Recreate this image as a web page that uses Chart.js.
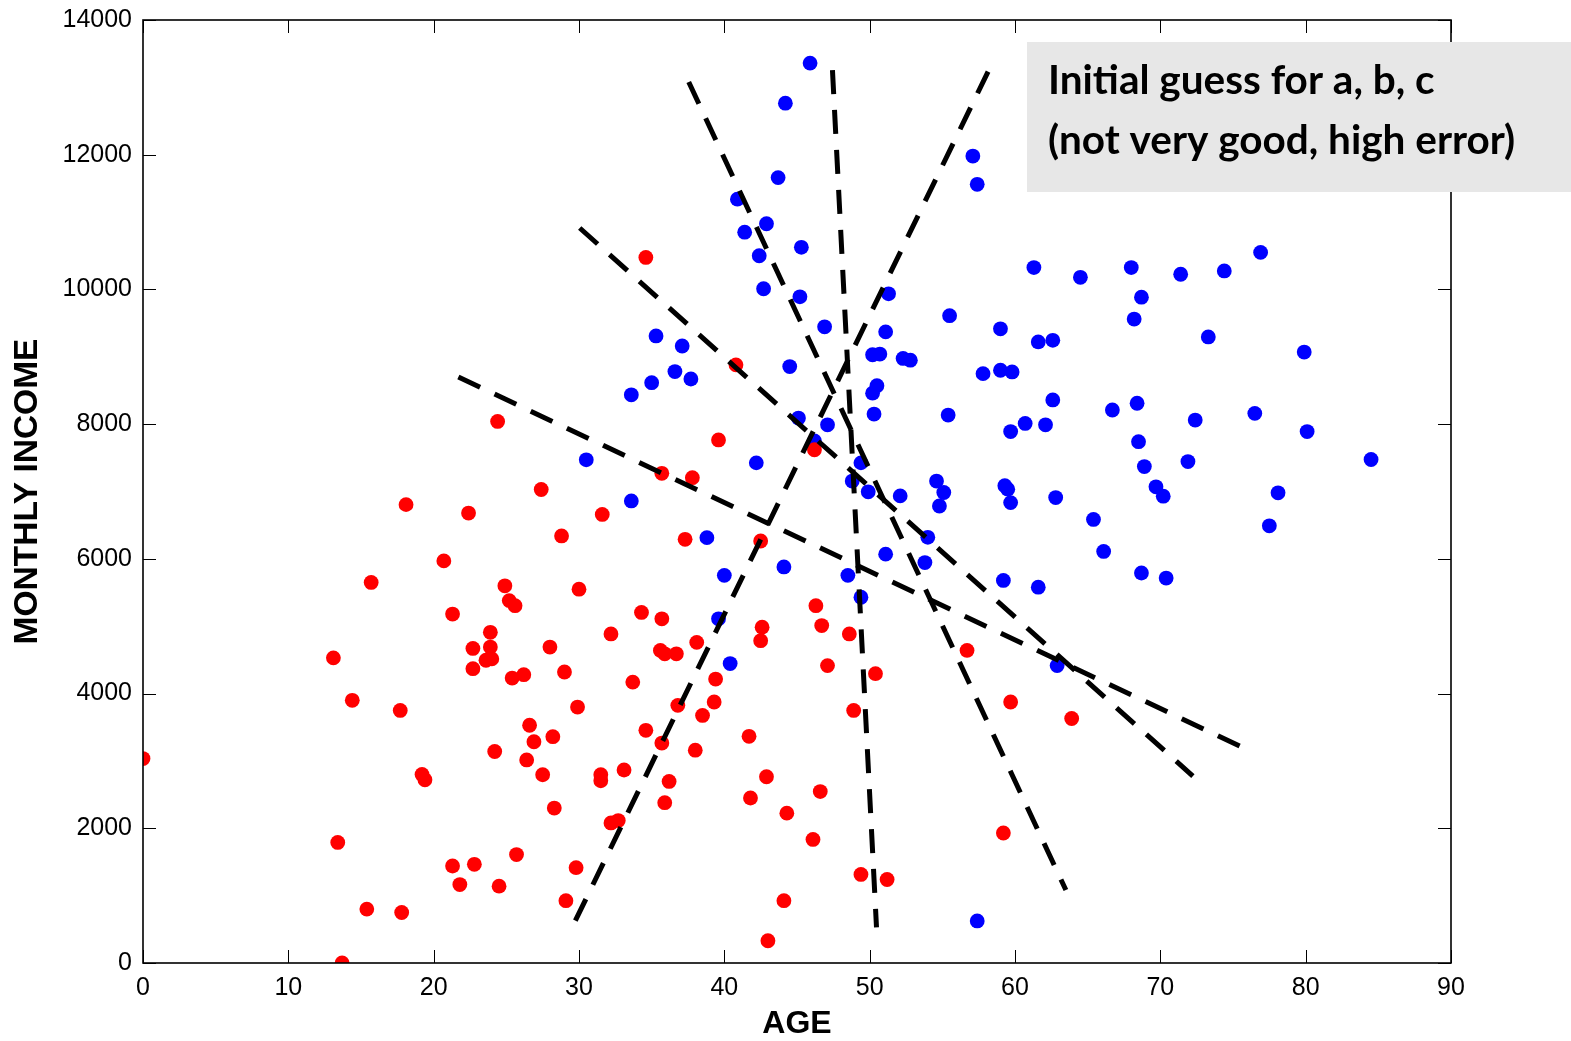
<!DOCTYPE html>
<html>
<head>
<meta charset="utf-8">
<title>Initial guess for a, b, c</title>
<script src="https://cdn.jsdelivr.net/npm/chart.js@4.4.0/dist/chart.umd.min.js"></script>
<style>
  html, body { margin: 0; padding: 0; background: #fff; }
  #wrap { width: 1571px; height: 1041px; }
</style>
</head>
<body>
<div id="wrap"><canvas id="guessChart"></canvas></div>
<script>
// red class (age, monthly income)
const redAge = [0.0, 13.1, 13.4, 13.7, 14.4, 15.4, 15.7, 17.7, 17.8, 18.1,
  19.2, 19.4, 20.7, 21.3, 21.3, 21.8, 22.4, 22.7, 22.7, 22.8,
  23.9, 23.9, 23.6, 24.0, 24.4, 24.2, 24.5, 24.9, 25.2, 25.6,
  25.4, 26.2, 25.7, 26.6, 26.9, 26.4, 27.4, 27.5, 28.0, 28.2,
  28.3, 28.8, 29.0, 29.1, 29.8, 29.9, 30.0, 31.5, 31.5, 31.6,
  32.2, 32.2, 32.7, 33.1, 33.7, 34.3, 34.6, 34.6, 35.6, 35.7,
  35.7, 35.7, 35.9, 35.9, 36.2, 36.7, 36.8, 37.3, 37.8, 38.0,
  38.1, 38.5, 39.3, 39.4, 39.6, 40.8, 41.7, 41.8, 42.5, 42.6,
  42.5, 42.9, 43.0, 44.1, 44.3, 46.1, 46.2, 46.3, 46.6, 46.7,
  47.1, 48.6, 48.9, 49.4, 50.4, 51.2, 56.7, 59.2, 59.7, 63.9];
const redIncome = [3035, 4530, 1790, 0, 3900, 800, 5650, 3750, 750, 6805,
  2800, 2720, 5970, 5180, 1440, 1165, 6680, 4670, 4370, 1465,
  4910, 4690, 4495, 4515, 8040, 3140, 1140, 5600, 5380, 5305,
  4230, 4280, 1610, 3530, 3285, 3015, 7030, 2795, 4690, 3360,
  2300, 6340, 4320, 925, 1415, 3800, 5550, 2795, 2705, 6660,
  4885, 2080, 2115, 2865, 4170, 5205, 3455, 10475, 4640, 7270,
  5110, 3265, 4590, 2380, 2695, 4590, 3825, 6290, 7205, 3160,
  4760, 3675, 3875, 4215, 7765, 8880, 3365, 2450, 6265, 4985,
  4785, 2765, 330, 925, 2225, 1835, 7620, 5305, 2545, 5010,
  4415, 4885, 3750, 1315, 4295, 1240, 4640, 1930, 3875, 3630];

// blue class (age, monthly income)
const blueAge = [30.5, 33.6, 33.6, 35.0, 35.3, 37.1, 36.6, 37.7, 38.8, 39.6,
  40.0, 40.4, 40.9, 41.4, 42.2, 42.4, 42.7, 42.9, 43.7, 44.1,
  44.2, 44.5, 45.1, 45.2, 45.3, 45.9, 46.2, 46.9, 47.1, 48.5,
  48.8, 49.4, 49.4, 49.9, 50.2, 50.7, 50.5, 50.2, 50.3, 51.1,
  51.3, 51.1, 52.1, 52.3, 52.8, 53.8, 54.0, 54.6, 55.1, 54.8,
  55.4, 55.5, 57.1, 57.4, 57.4, 57.8, 59.0, 59.0, 59.8, 59.2,
  59.3, 59.5, 59.7, 59.7, 60.7, 61.3, 61.6, 61.6, 62.1, 62.6,
  62.6, 62.8, 62.9, 64.5, 65.4, 66.1, 66.7, 68.0, 68.2, 68.4,
  68.5, 68.7, 68.7, 68.9, 69.7, 70.2, 70.4, 71.4, 71.9, 72.4,
  73.3, 74.4, 76.5, 76.9, 77.5, 78.1, 79.9, 80.1, 84.5];
const blueIncome = [7470, 8435, 6860, 8615, 9310, 9160, 8780, 8670, 6315, 5110,
  5755, 4445, 11340, 10850, 7425, 10500, 10010, 10975, 11660, 5880,
  12765, 8855, 8090, 9890, 10625, 13360, 7750, 9445, 7990, 5755,
  7155, 7425, 5430, 6995, 9030, 9040, 8570, 8460, 8150, 9370,
  9935, 6070, 6935, 8975, 8950, 5945, 6320, 7155, 6985, 6785,
  8135, 9610, 11980, 11560, 625, 8750, 9415, 8800, 8775, 5680,
  7085, 7035, 6835, 7890, 8010, 10325, 9220, 5580, 7990, 9245,
  8360, 6910, 4415, 10180, 6585, 6110, 8210, 10325, 9560, 8310,
  7740, 9885, 5790, 7370, 7070, 6930, 5715, 10225, 7445, 8060,
  9295, 10275, 8160, 10550, 6490, 6980, 9070, 7890, 7475];

// five dashed decision lines of the initial guess
const lineStartAge = [21.7, 30.05, 37.55, 47.44, 29.75];
const lineStartIncome = [8700, 10912, 13079, 13257, 628];
const lineEndAge = [75.6, 72.24, 63.5, 50.47, 58.27];
const lineEndIncome = [3207, 2776, 1084, 530, 13287];

const noteLines = ["Initial guess for a, b, c", "(not very good, high error)"];

const FONT = "'Liberation Sans', Arial, sans-serif";

// box + inward ticks on all four sides, matlab style
const framePlugin = {
  id: "frame",
  afterDraw(chart) {
    const { ctx, chartArea: a, scales } = chart;
    const len = 13;
    ctx.save();
    ctx.strokeStyle = "#000";
    ctx.lineWidth = 1;
    ctx.beginPath();
    scales.x.ticks.forEach(t => {
      const px = Math.round(scales.x.getPixelForValue(t.value)) + 0.5;
      ctx.moveTo(px, a.bottom); ctx.lineTo(px, a.bottom - len);
      ctx.moveTo(px, a.top); ctx.lineTo(px, a.top + len);
    });
    scales.y.ticks.forEach(t => {
      const py = Math.round(scales.y.getPixelForValue(t.value)) + 0.5;
      ctx.moveTo(a.left, py); ctx.lineTo(a.left + len, py);
      ctx.moveTo(a.right, py); ctx.lineTo(a.right - len, py);
    });
    ctx.stroke();
    ctx.lineWidth = 1.6;
    ctx.strokeRect(a.left, a.top, a.right - a.left, a.bottom - a.top);
    ctx.restore();
  }
};

const notePlugin = {
  id: "note",
  afterDraw(chart) {
    const { ctx, chartArea: a } = chart;
    const left = a.right - 424;
    const top = a.top + 22;
    ctx.save();
    ctx.fillStyle = "#e7e7e7";
    ctx.fillRect(left, top, chart.width - left, 150);
    ctx.fillStyle = "#000";
    ctx.textBaseline = "alphabetic";
    ctx.textAlign = "left";
    let size = 44;
    ctx.font = "bold " + size + "px Lato, 'Open Sans', sans-serif";
    size = size * 467 / ctx.measureText(noteLines[1]).width;
    ctx.font = "bold " + size.toFixed(1) + "px Lato, 'Open Sans', sans-serif";
    ctx.fillText(noteLines[0], left + 21, top + 52);
    ctx.fillText(noteLines[1], left + 21, top + 112);
    ctx.restore();
  }
};

const lineSets = lineStartAge.map((a, i) => ({
  type: "line",
  data: [{ x: a, y: lineStartIncome[i] }, { x: lineEndAge[i], y: lineEndIncome[i] }],
  borderColor: "#000",
  borderWidth: 5,
  borderDash: [24, 16],
  borderCapStyle: "butt",
  pointRadius: 0,
  fill: false,
  order: 0
}));

const plainNumber = v => String(v);

function makeChart() {
  new Chart(document.getElementById("guessChart"), {
    type: "scatter",
    data: {
      datasets: [
        ...lineSets,
        {
          label: "red",
          data: redAge.map((a, i) => ({ x: a, y: redIncome[i] })),
          backgroundColor: "#ff0000",
          borderWidth: 0,
          pointRadius: 7.4,
          order: 1
        },
        {
          label: "blue",
          data: blueAge.map((a, i) => ({ x: a, y: blueIncome[i] })),
          backgroundColor: "#0000ff",
          borderWidth: 0,
          pointRadius: 7.4,
          order: 1
        }
      ]
    },
    options: {
      responsive: true,
      maintainAspectRatio: false,
      animation: false,
      layout: { padding: { left: 0, top: 20, right: 120, bottom: 0 } },
      plugins: { legend: { display: false }, tooltip: { enabled: false } },
      scales: {
        x: {
          type: "linear",
          min: 0,
          max: 90,
          ticks: { stepSize: 10, color: "#000", padding: 10, callback: plainNumber, font: { family: FONT, size: 25 }, maxRotation: 0 },
          grid: { display: false, tickLength: 0 },
          border: { display: false },
          title: { display: true, text: "AGE", color: "#000", font: { family: FONT, size: 32, weight: "bold", lineHeight: 1 }, padding: { top: 0, bottom: 1 } },
          afterFit(s) { s.height = 78; s.paddingLeft = 0; s.paddingRight = 0; }
        },
        y: {
          min: 0,
          max: 14000,
          ticks: { stepSize: 2000, color: "#000", padding: 11, callback: plainNumber, font: { family: FONT, size: 25 } },
          grid: { display: false, tickLength: 0 },
          border: { display: false },
          title: { display: true, text: "MONTHLY INCOME", color: "#000", font: { family: FONT, size: 33.5, weight: "bold" }, padding: { top: 8, bottom: 0 } },
          afterFit(s) { s.width = 143; s.paddingTop = 0; s.paddingBottom = 0; }
        }
      }
    },
    plugins: [framePlugin, notePlugin]
  });
}

Promise.all([
  document.fonts.load("bold 40px Lato"),
  document.fonts.load("25px 'Liberation Sans'"),
  document.fonts.load("bold 32px 'Liberation Sans'")
]).then(makeChart, makeChart);
</script>
</body>
</html>
